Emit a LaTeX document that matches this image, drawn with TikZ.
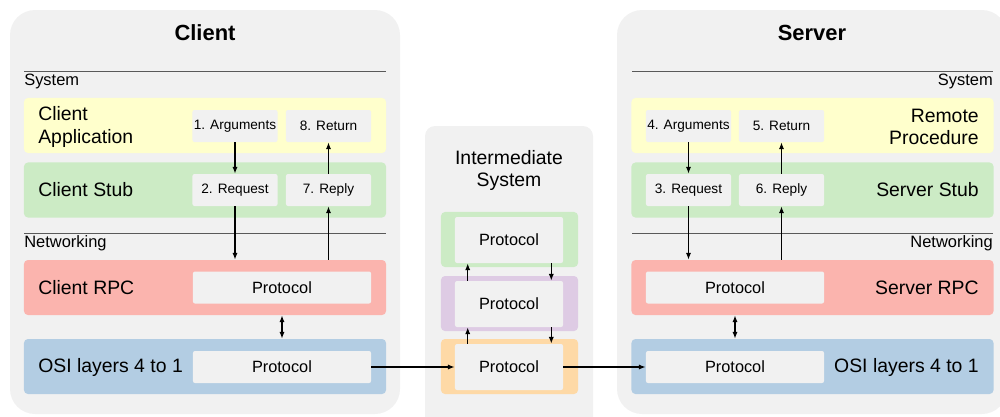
\documentclass[tikz,border=0pt]{standalone}
\usepackage{fontspec}
\setmainfont{Liberation Sans}
\usepackage{xcolor}
\usepackage{tikz}
\usetikzlibrary{arrows.meta}

\definecolor{panelgray}{HTML}{F1F1F1}
\definecolor{boxgray}{HTML}{F1F1F1}
\definecolor{pyellow}{HTML}{FFFFCC}
\definecolor{pgreen}{HTML}{CCEBC5}
\definecolor{pred}{HTML}{FBB4AE}
\definecolor{pblue}{HTML}{B3CDE3}
\definecolor{ppurple}{HTML}{DECBE4}
\definecolor{porange}{HTML}{FED9A6}

\begin{document}
\begin{tikzpicture}[x=0.025cm, y=-0.025cm,
            band/.style={rounded corners=1mm, minimum width=9.05cm, minimum height=1.375cm, inner sep=0pt},
            iband/.style={band, minimum width=3.425cm},
            box/.style={fill=boxgray, rounded corners=0.5mm, minimum width=2.125cm, minimum height=0.8cm, inner sep=0pt, font=\fontsize{9.7}{11}\selectfont},
            proto/.style={box, minimum width=4.45cm, font=\fontsize{11.6}{13}\selectfont},
            ibox/.style={proto, minimum width=2.7cm, minimum height=1.15cm},
            lbl/.style={inner sep=0pt, font=\fontsize{13.8}{15.8}\selectfont},
            sublbl/.style={inner sep=0pt, font=\fontsize{11.7}{13}\selectfont},
            ttl/.style={inner sep=0pt, font=\bfseries\fontsize{15.6}{18}\selectfont},
            sep/.style={line width=0.7pt, color=black!65},
            arr/.style={line width=1.1pt, -{Latex[length=1.7mm, width=1.3mm]}},
            dbl/.style={line width=1.1pt, {Latex[length=1.7mm, width=1.3mm]}-{Latex[length=1.7mm, width=1.3mm]}}]
        \clip (0,0) rectangle (1000,416);

        % panels
        \fill[panelgray, rounded corners=0.625cm] (10,10) rectangle (400,414);
        \fill[panelgray, rounded corners=0.25cm] (425,126) rectangle (593,440);
        \fill[panelgray, rounded corners=0.625cm] (617,10) rectangle (1007,414);

        % client
        \node[ttl] (ctitle) at (205,33) {Client};
        \draw[sep] (24,71) -- (386,71);
        \node[sublbl, anchor=west] (csys) at (24,81) {System};
        \draw[sep] (24,233) -- (386,233);
        \node[sublbl, anchor=west] (cnet) at (24,243) {Networking};

        \node[band, fill=pyellow] (capp) at (205,125.5) {};
        \node[band, fill=pgreen] (cstub) at (205,190) {};
        \node[band, fill=pred] (crpc) at (205,287.5) {};
        \node[band, fill=pblue] (cosi) at (205,366.5) {};

        \node[lbl, anchor=west, align=left] (lcapp) at (38,127) {Client\\Application};
        \node[lbl, anchor=west] (lcstub) at (38,190) {Client Stub};
        \node[lbl, anchor=west] (lcrpc) at (38,288) {Client RPC};
        \node[lbl, anchor=west] (lcosi) at (38,367) {OSI layers 4 to 1};

        \node[box] (arg1) at (235,126) {1. Arguments};
        \node[box] (ret8) at (328.5,126) {8. Return};
        \node[box] (req2) at (235,190) {2. Request};
        \node[box] (rep7) at (328.5,190) {7. Reply};
        \node[proto] (cp1) at (282,287.5) {Protocol};
        \node[proto] (cp2) at (282,367) {Protocol};

        \draw[arr] (arg1) -- (req2);
        \draw[arr] (req2) -- (req2 |- crpc.north);
        \draw[arr] (rep7 |- crpc.north) -- (rep7);
        \draw[arr] (rep7) -- (ret8);
        \draw[dbl] (cp1 |- crpc.south) -- (cp1 |- cosi.north);

        % intermediate system
        \node[lbl, align=center] (ititle) at (509,170.5) {Intermediate\\System};
        \node[iband, fill=pgreen] (ig) at (509.5,239.5) {};
        \node[iband, fill=ppurple] (ipu) at (509.5,303.5) {};
        \node[iband, fill=porange] (ior) at (509.5,366.5) {};
        \node[ibox] (ip1) at (509,240) {Protocol};
        \node[ibox] (ip2) at (509,304) {Protocol};
        \node[ibox] (ip3) at (509,367) {Protocol};

        \draw[arr] ([xshift=0.325cm]ip2.north west) -- ([xshift=0.325cm]ip1.south west);
        \draw[arr] ([xshift=0.325cm]ip3.north west) -- ([xshift=0.325cm]ip2.south west);
        \draw[arr] ([xshift=-0.3cm]ip1.south east) -- ([xshift=-0.3cm]ip2.north east);
        \draw[arr] ([xshift=-0.3cm]ip2.south east) -- ([xshift=-0.3cm]ip3.north east);

        % server
        \node[ttl] (stitle) at (812,33) {Server};
        \draw[sep] (632,71) -- (993,71);
        \node[sublbl, anchor=east] (ssys) at (993,81) {System};
        \draw[sep] (632,233) -- (993,233);
        \node[sublbl, anchor=east] (snet) at (993,243) {Networking};

        \node[band, fill=pyellow] (sproc) at (812.5,125.5) {};
        \node[band, fill=pgreen] (sstub) at (812.5,190) {};
        \node[band, fill=pred] (srpc) at (812.5,287.5) {};
        \node[band, fill=pblue] (sosi) at (812.5,366.5) {};

        \node[lbl, anchor=east, align=right] (lsproc) at (979,127) {Remote\\Procedure};
        \node[lbl, anchor=east] (lsstub) at (979,190) {Server Stub};
        \node[lbl, anchor=east] (lsrpc) at (979,288) {Server RPC};
        \node[lbl, anchor=east] (lsosi) at (979,367) {OSI layers 4 to 1};

        \node[box] (arg4) at (688.5,126) {4. Arguments};
        \node[box] (ret5) at (781.5,126) {5. Return};
        \node[box] (req3) at (688.5,190) {3. Request};
        \node[box] (rep6) at (781.5,190) {6. Reply};
        \node[proto] (sp1) at (735,287.5) {Protocol};
        \node[proto] (sp2) at (735,367) {Protocol};

        \draw[arr] (arg4) -- (req3);
        \draw[arr] (req3) -- (req3 |- srpc.north);
        \draw[arr] (rep6 |- srpc.north) -- (rep6);
        \draw[arr] (rep6) -- (ret5);
        \draw[dbl] (sp1 |- srpc.south) -- (sp1 |- sosi.north);

        % links
        \draw[arr] (cp2.east) -- (ip3.west);
        \draw[arr] (ip3.east) -- (sp2.west);
\end{tikzpicture}
\end{document}
